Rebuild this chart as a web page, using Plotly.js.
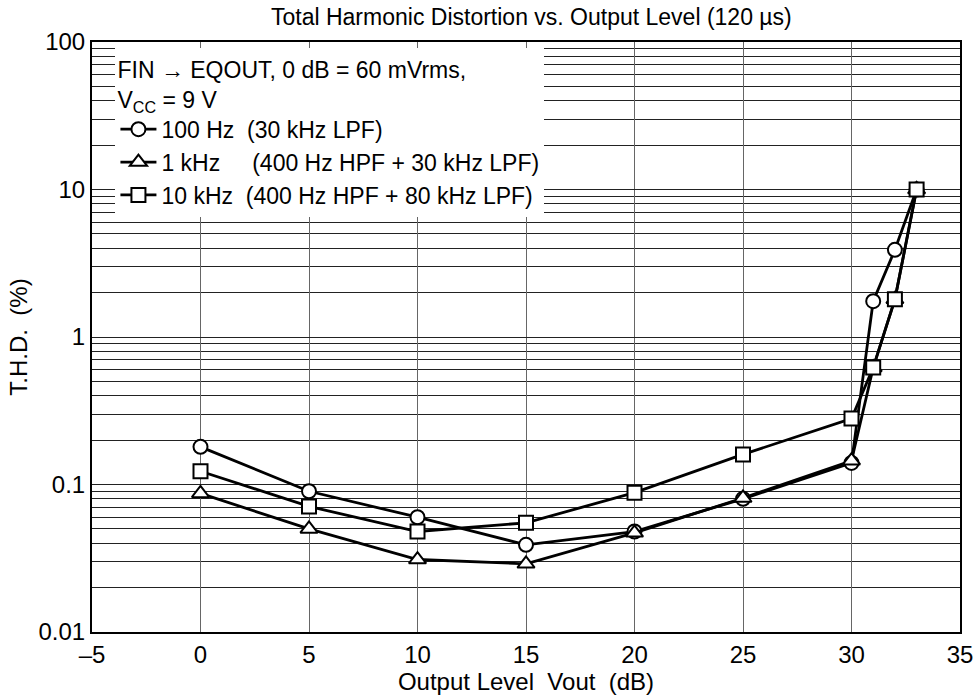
<!DOCTYPE html>
<html>
<head>
<meta charset="utf-8">
<script src="https://cdn.plot.ly/plotly-3.0.1.min.js"></script>
<style>html,body{margin:0;padding:0;background:#fff;}#chart{width:975px;height:697px;}</style>
</head>
<body>
<div id="chart"></div>
<script>
const outputLevel = [0, 5, 10, 15, 20, 25, 30, 31, 32, 33];
const thd100Hz = [0.18, 0.09, 0.06, 0.039, 0.048, 0.08, 0.14, 1.75, 3.9, 10];
const thd1kHz = [0.087, 0.05, 0.031, 0.029, 0.047, 0.081, 0.145, 0.62, 1.8, 10];
const thd10kHz = [0.123, 0.071, 0.048, 0.055, 0.088, 0.16, 0.28, 0.62, 1.8, 10];
const seriesNames = [
  "100 Hz&nbsp;&nbsp;(30 kHz LPF)",
  "1 kHz&nbsp;&nbsp;&nbsp;&nbsp;&nbsp;(400 Hz HPF + 30 kHz LPF)",
  "10 kHz&nbsp;&nbsp;(400 Hz HPF + 80 kHz LPF)"
];
const xTickVals = [-5, 0, 5, 10, 15, 20, 25, 30, 35];
const xTickText = ["\u20135", "0", "5", "10", "15", "20", "25", "30", "35"];
const yTickVals = [0.01, 0.1, 1, 10, 100];
const yTickText = ["0.01", "0.1", "1", "10", "100"];

const yMinorVals = [];
yTickVals.slice(0, 4).forEach(d => {
  for (let m = 2; m <= 9; m++) yMinorVals.push(d * m);
});

const font = {family: "Liberation Sans, Arial, sans-serif", color: "#000"};
const symbols = ["circle", "triangle-up", "square"];
const ys = [thd100Hz, thd1kHz, thd10kHz];

const traces = ys.map((y, i) => ({
  x: outputLevel,
  y: y,
  type: "scatter",
  mode: "lines+markers",
  name: seriesNames[i],
  line: {color: "#000", width: 2.8},
  marker: {symbol: symbols[i], size: i === 1 ? 15 : 14, color: "#fff", line: {color: "#000", width: 2}}
}));

const layout = {
  width: 975,
  height: 697,
  margin: {l: 92, r: 15, t: 42, b: 65},
  paper_bgcolor: "#fff",
  plot_bgcolor: "#fff",
  font: Object.assign({}, font, {size: 23}),
  title: {
    text: "Total Harmonic Distortion vs. Output Level (120 \u00b5s)",
    font: Object.assign({}, font, {size: 23}),
    x: 0.545, xanchor: "center", y: 0.975, yanchor: "middle"
  },
  xaxis: {
    range: [-5, 35],
    tickvals: xTickVals,
    ticktext: xTickText,
    showgrid: true,
    gridcolor: "#666",
    gridwidth: 1,
    zeroline: false,
    showline: true,
    linecolor: "#000",
    linewidth: 2,
    mirror: true,
    ticks: "",
    tickfont: Object.assign({}, font, {size: 24}),
    title: {text: "Output Level&nbsp;&nbsp;Vout&nbsp;&nbsp;(dB)", font: Object.assign({}, font, {size: 24}), standoff: 0}
  },
  yaxis: {
    type: "log",
    range: [-2, 2],
    tickvals: yTickVals,
    ticktext: yTickText,
    showgrid: true,
    gridcolor: "#222",
    gridwidth: 1,
    minor: {tickmode: "array", tickvals: yMinorVals, showgrid: true, gridcolor: "#222", gridwidth: 1, ticks: ""},
    zeroline: false,
    showline: true,
    linecolor: "#000",
    linewidth: 2,
    mirror: true,
    ticks: "",
    tickfont: Object.assign({}, font, {size: 24}),
    title: {text: "T.H.D.&nbsp;&nbsp;(%)", font: Object.assign({}, font, {size: 24}), standoff: 4}
  },
  showlegend: true,
  legend: {
    x: 0.027, y: 0.99, xanchor: "left", yanchor: "top",
    bgcolor: "#fff",
    borderwidth: 0,
    tracegroupgap: 0,
    itemwidth: 36,
    font: Object.assign({}, font, {size: 23}),
    title: {text: "FIN \u2192 EQOUT, 0 dB = 60 mVrms,<br>V<sub>CC</sub> = 9 V", font: Object.assign({}, font, {size: 23}), side: "top"}
  }
};

Plotly.newPlot("chart", traces, layout, {displayModeBar: false, staticPlot: true});
</script>
</body>
</html>
